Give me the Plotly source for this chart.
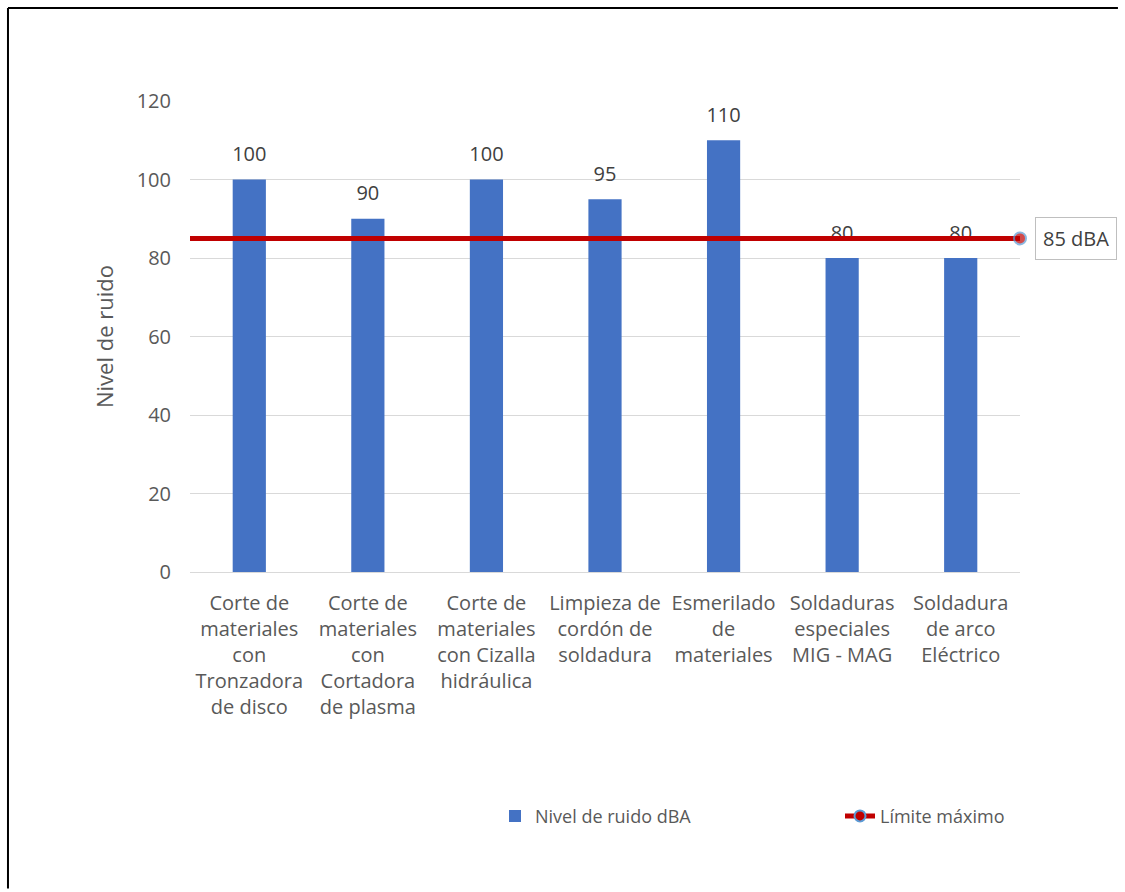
import plotly.graph_objects as go

# ---- data ----
categorias = [
    "Corte de<br>materiales<br>con<br>Tronzadora<br>de disco",
    "Corte de<br>materiales<br>con<br>Cortadora<br>de plasma",
    "Corte de<br>materiales<br>con Cizalla<br>hidráulica",
    "Limpieza de<br>cordón de<br>soldadura",
    "Esmerilado<br>de<br>materiales",
    "Soldaduras<br>especiales<br>MIG - MAG",
    "Soldadura<br>de arco<br>Eléctrico",
]
niveles = [100, 90, 100, 95, 110, 80, 80]
limite = 85
limite_x = [0, 1]
etiqueta_limite = "85 dBA"
y_ticks = [0, 20, 40, 60, 80, 100, 120]

FONT = "Open Sans"
BLUE = "#4472C4"
RED = "#C00000"
GREY_TXT = "#595959"
DARK_TXT = "#404040"

fig = go.Figure()

fig.add_trace(go.Bar(
    x=categorias, y=niveles, name="Nivel de ruido dBA",
    marker=dict(color=BLUE, line=dict(width=0)), width=0.28,
    hoverinfo="x+y",
))

# data labels (drawn before the limit line so the line covers them)
fig.add_trace(go.Scatter(
    x=categorias, y=niveles, mode="markers+text",
    text=[str(v) for v in niveles], textposition="top center",
    textfont=dict(family=FONT, size=20, color=DARK_TXT),
    marker=dict(size=20, color="rgba(0,0,0,0)"),
    showlegend=False, hoverinfo="skip", cliponaxis=False,
))

# limit line across the full plot width
fig.add_trace(go.Scatter(
    x=limite_x, y=[limite] * len(limite_x), xaxis="x2", yaxis="y",
    mode="lines+markers", name="Límite máximo",
    line=dict(color=RED, width=5),
    marker=dict(size=[0, 12], color=RED, line=dict(color="#5B9BD5", width=2)),
    showlegend=False, cliponaxis=False,
))
# legend entry for the limit line
fig.add_trace(go.Scatter(
    x=[None], y=[None], xaxis="x2", yaxis="y",
    mode="lines+markers", name="Límite máximo",
    line=dict(color=RED, width=5),
    marker=dict(size=11, color=RED, line=dict(color="#5B9BD5", width=2)),
))

fig.add_annotation(
    x=1, xref="paper", y=limite, yref="y", text=etiqueta_limite,
    showarrow=False, xanchor="left", yanchor="middle", xshift=15,
    bordercolor="#BFBFBF", borderwidth=1, borderpad=7, bgcolor="white",
    font=dict(family=FONT, size=20, color=DARK_TXT),
)

# outer chart border: left and top edges only (right/bottom lie off the page)
fig.add_shape(type="line", xref="paper", yref="paper",
              x0=-0.2193, x1=-0.2193, y0=-0.672, y1=1.1975,
              line=dict(color="black", width=2), layer="below")
fig.add_shape(type="line", xref="paper", yref="paper",
              x0=-0.2193, x1=1.118, y0=1.1975, y1=1.1975,
              line=dict(color="black", width=2), layer="below")

fig.update_layout(
    width=1125, height=892,
    margin=dict(l=190, r=105, t=101, b=320, autoexpand=False),
    paper_bgcolor="white", plot_bgcolor="white",
    font=dict(family=FONT, size=20, color=GREY_TXT),
    bargap=0.72,
    xaxis=dict(
        type="category", showgrid=False, showline=True, linecolor="#D9D9D9",
        linewidth=1, ticks="", tickangle=0, automargin=False,
        tickfont=dict(family=FONT, size=20, color=GREY_TXT),
        ticklabelstandoff=13,
    ),
    xaxis2=dict(overlaying="x", range=[0, 1], visible=False),
    yaxis=dict(
        range=[0, 120], tickvals=y_ticks, showgrid=True, gridcolor="#D9D9D9",
        gridwidth=1, zeroline=False, showline=False, ticks="", automargin=False,
        tickfont=dict(family=FONT, size=20, color=GREY_TXT),
        ticklabelstandoff=18,
        title=dict(text="Nivel de ruido", font=dict(family=FONT, size=22, color=GREY_TXT),
                   standoff=16),
    ),
    legend=dict(
        orientation="h", xref="container", yref="container",
        x=0.44, xanchor="left", y=0.085, yanchor="middle",
        font=dict(family=FONT, size=18, color=GREY_TXT),
        entrywidth=300, entrywidthmode="pixels", bgcolor="rgba(0,0,0,0)",
        traceorder="normal",
    ),
    showlegend=True,
)

fig.write_html("out.html", config={"displayModeBar": False})
